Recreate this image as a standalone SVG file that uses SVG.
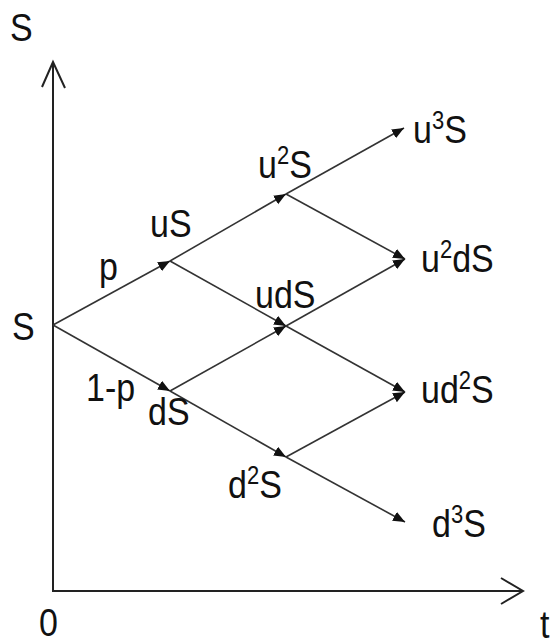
<svg xmlns="http://www.w3.org/2000/svg" width="555" height="644" viewBox="0 0 555 644">
  <style>
    .lbl { font-family: "Liberation Sans", Arial, sans-serif; font-size: 34px; fill: #111; }
    .sup { font-size: 22px; }
    .axis { stroke: #222; stroke-width: 2; fill: none; }
    .edge { stroke: #333; stroke-width: 1.6; fill: none; marker-end: url(#tip); }
  </style>
  <defs>
    <marker id="tip" markerUnits="userSpaceOnUse" markerWidth="14" markerHeight="12" refX="12" refY="5" orient="auto">
      <path d="M0,0 L12,5 L0,10 Z" fill="#111"/>
    </marker>
  </defs>

  <!-- axes -->
  <g id="axes">
    <path class="axis" d="M53,62 L53,591 L523,591"/>
    <path class="axis" d="M42,87 L53,62 L65,88" stroke-width="1.6"/>
    <path class="axis" d="M501,578 L523,591 L501,604" stroke-width="1.6"/>
    <text class="lbl" transform="translate(10,41) scale(1,1.15)">S</text>
    <text class="lbl" transform="translate(39,636) scale(1,1.15)">0</text>
    <text class="lbl" transform="translate(540,638) scale(1,1.15)">t</text>
  </g>

  <!-- connectors -->
  <g id="connectors">
    <line class="edge" x1="53" y1="325" x2="170" y2="261"/>
    <line class="edge" x1="53" y1="325" x2="170" y2="391"/>
    <line class="edge" x1="170" y1="261" x2="286" y2="194"/>
    <line class="edge" x1="170" y1="261" x2="286" y2="326"/>
    <line class="edge" x1="170" y1="391" x2="286" y2="326"/>
    <line class="edge" x1="170" y1="391" x2="286" y2="457"/>
    <line class="edge" x1="286" y1="194" x2="404" y2="128"/>
    <line class="edge" x1="286" y1="194" x2="405" y2="259"/>
    <line class="edge" x1="286" y1="326" x2="405" y2="259"/>
    <line class="edge" x1="286" y1="326" x2="405" y2="392"/>
    <line class="edge" x1="286" y1="457" x2="405" y2="392"/>
    <line class="edge" x1="286" y1="457" x2="405" y2="522"/>
  </g>

  <!-- nodes -->
  <g id="node-S"><text class="lbl" transform="translate(12,340) scale(1,1.15)">S</text></g>
  <g id="edge-label-p"><text class="lbl" transform="translate(99,280) scale(1,1.15)">p</text></g>
  <g id="edge-label-1-p"><text class="lbl" transform="translate(86,401) scale(1,1.15)">1-p</text></g>
  <g id="node-uS"><text class="lbl" transform="translate(150,237) scale(1,1.15)">uS</text></g>
  <g id="node-dS"><text class="lbl" transform="translate(148,425) scale(1,1.15)">dS</text></g>
  <g id="node-u2S"><text class="lbl" transform="translate(258,178) scale(1,1.15)">u<tspan class="sup" dy="-12">2</tspan><tspan dy="12">S</tspan></text></g>
  <g id="node-udS"><text class="lbl" transform="translate(255,308) scale(1,1.15)">udS</text></g>
  <g id="node-d2S"><text class="lbl" transform="translate(228,498) scale(1,1.15)">d<tspan class="sup" dy="-12">2</tspan><tspan dy="12">S</tspan></text></g>
  <g id="node-u3S"><text class="lbl" transform="translate(413,143) scale(1,1.15)">u<tspan class="sup" dy="-12">3</tspan><tspan dy="12">S</tspan></text></g>
  <g id="node-u2dS"><text class="lbl" transform="translate(421,272) scale(1,1.15)">u<tspan class="sup" dy="-12">2</tspan><tspan dy="12">dS</tspan></text></g>
  <g id="node-ud2S"><text class="lbl" transform="translate(421,403) scale(1,1.15)">ud<tspan class="sup" dy="-12">2</tspan><tspan dy="12">S</tspan></text></g>
  <g id="node-d3S"><text class="lbl" transform="translate(432,537) scale(1,1.15)">d<tspan class="sup" dy="-12">3</tspan><tspan dy="12">S</tspan></text></g>
</svg>
